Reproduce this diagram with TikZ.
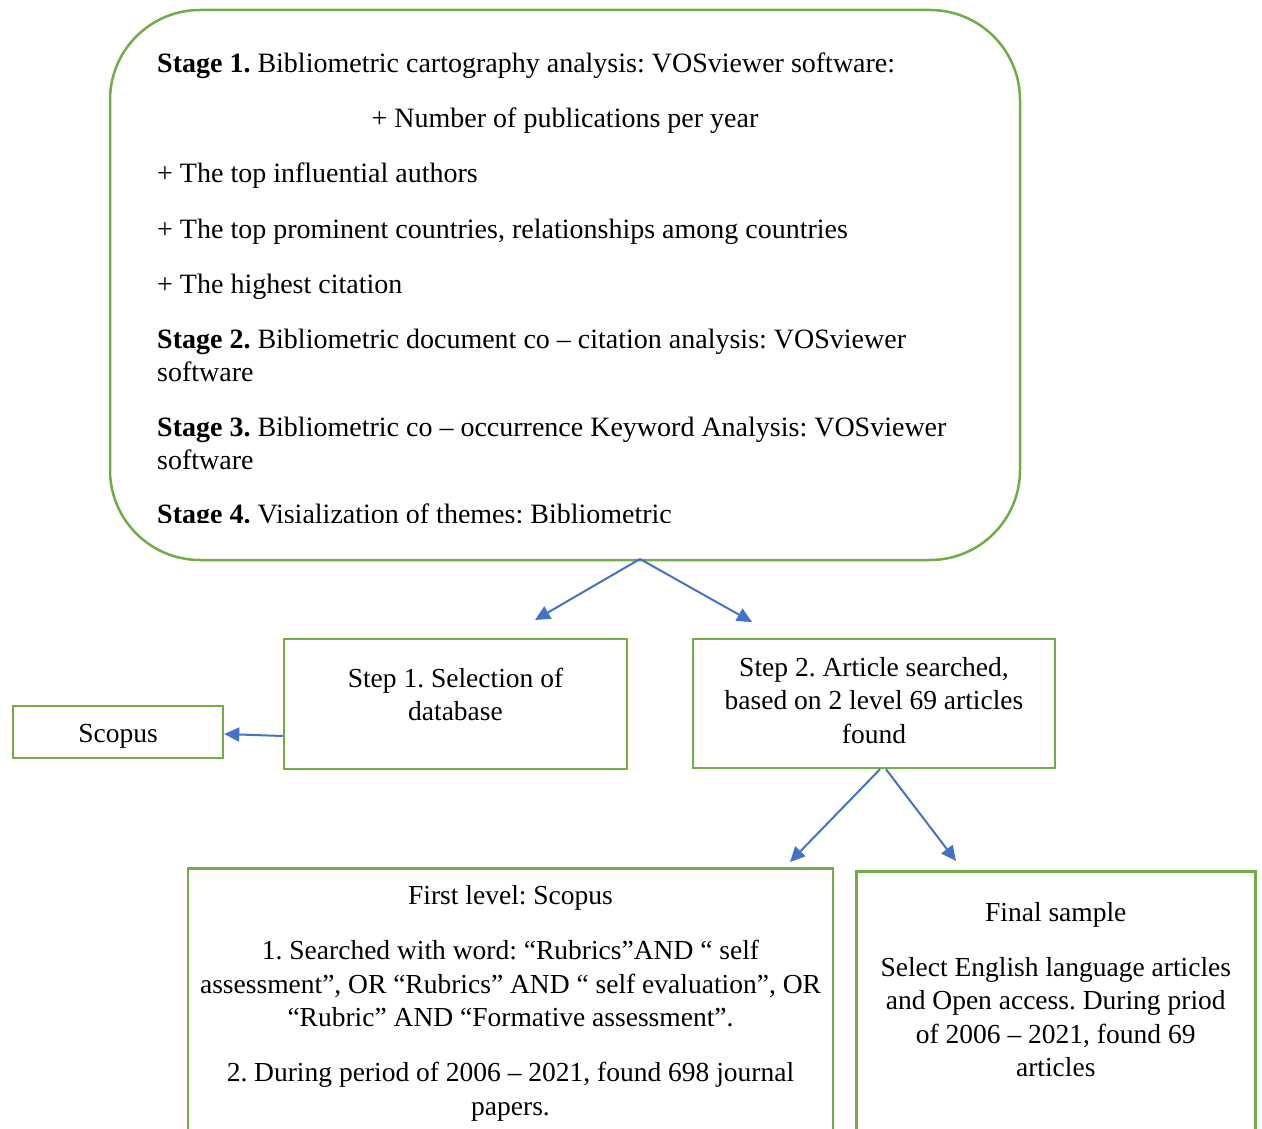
\documentclass[tikz,border=0pt]{standalone}
\usepackage{fontspec}
\setmainfont{Liberation Serif}
\usetikzlibrary{arrows.meta,positioning}
\definecolor{boxgreen}{HTML}{70AD47}
\definecolor{arrowblue}{HTML}{4472C4}
\frenchspacing

\begin{document}
\begin{tikzpicture}[x=1pt,y=-1pt,
   greenbox/.style={draw=boxgreen,line width=2.5pt,inner sep=0pt},
   flow/.style={draw=arrowblue,line width=2pt,-{Triangle[length=15pt,width=14pt]}},
   txt/.style={font=\fontsize{28}{33}\selectfont,inner sep=0pt},
   smalltxt/.style={font=\fontsize{27.5}{33.5}\selectfont,inner sep=0pt,align=center}]
   \useasboundingbox (0,0) rectangle (1262,1129);
   % stages
   \node[greenbox,rounded corners=90pt,minimum width=910pt,minimum height=550pt] (stages) at (565,285) {};
   \node[txt,anchor=base west] (st1) at (157,73) {\textbf{Stage 1.} Bibliometric cartography analysis: VOSviewer software:};
   \node[txt,anchor=base] (st1a) at (565,128) {+ Number of publications per year};
   \node[txt,anchor=base west] (st1b) at (157,183) {+ The top influential authors};
   \node[txt,anchor=base west] (st1c) at (157,238) {+ The top prominent countries, relationships among countries};
   \node[txt,anchor=base west] (st1d) at (157,293) {+ The highest citation};
   \node[txt,anchor=base west] (st2) at (157,348) {\textbf{Stage 2.} Bibliometric document co – citation analysis: VOSviewer};
   \node[txt,anchor=base west] (st2a) at (157,381) {software};
   \node[txt,anchor=base west] (st3) at (157,436) {\textbf{Stage 3.} Bibliometric co – occurrence Keyword Analysis: VOSviewer};
   \node[txt,anchor=base west] (st3a) at (157,469) {software};
   \begin{scope}
      \clip (150,480) rectangle (1000,522.5);
      \node[txt,anchor=base west] (st4) at (157,523) {\textbf{Stage 4.} Visialization of themes: Bibliometric};
   \end{scope}
   % steps
   \node[greenbox,minimum width=343pt,minimum height=130pt] (step1) at (455.5,704) {};
   \node[smalltxt,below=30pt of step1.north] (step1txt) {Step 1. Selection of\\database};
   \node[greenbox,minimum width=362pt,minimum height=129pt] (step2) at (874,703.5) {};
   \node[smalltxt,below=19pt of step2.north] (step2txt) {Step 2. Article searched,\\based on 2 level 69 articles\\found};
   \node[greenbox,minimum width=210pt,minimum height=52pt] (scopus) at (118,732) {};
   \node[smalltxt] (scopustxt) at ([yshift=-4pt]scopus.center) {Scopus};
   \node[greenbox,smalltxt,minimum width=645pt,minimum height=270pt,anchor=north] (first) at (510.5,867) {First level: Scopus\\[21.5pt]1. Searched with word: “Rubrics”AND “ self\\assessment”, OR “Rubrics” AND “ self evaluation”, OR\\“Rubric” AND “Formative assessment”.\\[21.5pt]2. During period of 2006 – 2021, found 698 journal\\papers.};
   \node[greenbox,minimum width=399pt,minimum height=280pt,anchor=north west] (final) at (855,870) {};
   \node[smalltxt,below=32pt of final.north] (finaltxt) {Final sample\\[21.5pt]Select English language articles\\and Open access. During priod\\of 2006 – 2021, found 69\\articles};
   % arrows
   \coordinate (split) at (640,559);
   \coordinate (tipa) at (535,620);
   \coordinate (tipb) at (752,622);
   \coordinate (tipc) at (790,862);
   \coordinate (tipd) at (956,861);
   \draw[flow] (split) -- (tipa);
   \draw[flow] (split) -- (tipb);
   \draw[flow] ([yshift=-32pt]step1.west) -- ([yshift=-2pt]scopus.east);
   \draw[flow] ([xshift=6pt]step2.south) -- (tipc);
   \draw[flow] ([xshift=12pt]step2.south) -- (tipd);
\end{tikzpicture}
\end{document}
